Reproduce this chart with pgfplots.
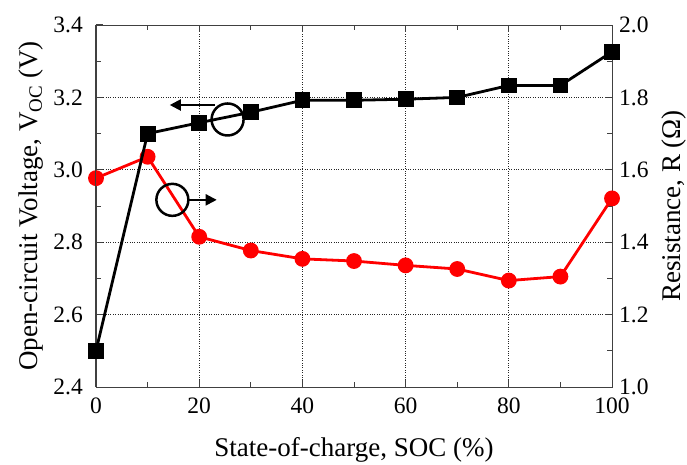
\documentclass[border=0pt]{standalone}
\usepackage{pgfplots}
\pgfplotsset{compat=1.18}
\usepackage{fontspec}
\setmainfont{Liberation Serif}
\usetikzlibrary{arrows.meta}
\begin{document}
\begin{tikzpicture}
% Right axis: resistance (drawn first, with the grid)
\begin{axis}[
  name=ax,
  font=\fontsize{23.5pt}{28pt}\selectfont,
  scale only axis, width=516pt, height=362pt,
  xmin=0, xmax=100,
  /pgf/number format/assume math mode=true,
  axis line style={black!75, line width=1pt},
  tick style={black!75, line width=1pt},
  major tick length=7pt, minor tick length=5pt,
  yticklabel style={inner sep=0pt, xshift=7pt, /pgf/number format/fixed, /pgf/number format/fixed zerofill, /pgf/number format/precision=1},
  xticklabel style={inner sep=0pt, yshift=-11pt},
  ymin=1.0, ymax=2.0,
  ytick={1.0,1.2,1.4,1.6,1.8,2.0},
  minor ytick={1.1,1.3,1.5,1.7,1.9},
  xtick={0,20,40,60,80,100},
  minor xtick={10,30,50,70,90},
  xtick pos=both,
  ytick pos=right, yticklabel pos=right,
  ylabel={Resistance, R (Ω)},
  ylabel style={font=\fontsize{27pt}{32pt}\selectfont, at={([xshift=68pt]axis description cs:1,0.5)}, anchor=base, rotate=0},
  xlabel={State-of-charge, SOC (\%)},
  xlabel style={font=\fontsize{27pt}{32pt}\selectfont, at={([yshift=-69pt]axis description cs:0.5,0)}, anchor=base},
  grid=major,
  major grid style={dotted, black!85, line width=0.9pt},
]
\addplot[red, line width=2.8pt, mark=*, mark size=6.5pt, mark options={solid, fill=red, draw=red}] coordinates {
  (0,1.577) (10,1.636) (20,1.415) (30,1.377) (40,1.354) (50,1.348)
  (60,1.336) (70,1.326) (80,1.294) (90,1.305) (100,1.521)
};
\end{axis}
% Left axis: open-circuit voltage
\begin{axis}[
  font=\fontsize{23.5pt}{28pt}\selectfont,
  scale only axis, width=516pt, height=362pt,
  xmin=0, xmax=100,
  /pgf/number format/assume math mode=true,
  axis line style={black!75, line width=1pt},
  tick style={black!75, line width=1pt},
  major tick length=7pt, minor tick length=5pt,
  yticklabel style={inner sep=0pt, xshift=-13pt, /pgf/number format/fixed, /pgf/number format/fixed zerofill, /pgf/number format/precision=1},
  ymin=2.4, ymax=3.4,
  ytick={2.4,2.6,2.8,3.0,3.2,3.4},
  minor ytick={2.5,2.7,2.9,3.1,3.3},
  axis x line=none,
  axis y line*=left,
  ytick pos=left,
  ylabel={Open-circuit Voltage, V\textsubscript{OC} (V)},
  ylabel style={font=\fontsize{27pt}{32pt}\selectfont, at={([xshift=-58pt]axis description cs:0,0.5)}, anchor=base},
  clip=false,
]
\addplot[black, line width=2.8pt, mark=square*, mark size=6.5pt, mark options={solid, fill=black}] coordinates {
  (0,2.500) (10,3.100) (20,3.130) (30,3.159) (40,3.192) (50,3.192)
  (60,3.195) (70,3.200) (80,3.233) (90,3.233) (100,3.326)
};
\draw[black, line width=2.5pt] (axis cs:25.5,3.139) circle[radius=16pt];
\draw[black, line width=2pt, -{Triangle[length=11pt, width=11pt]}] (axis cs:23.1,3.179) -- (axis cs:14.3,3.179);
\draw[black, line width=2.5pt] (axis cs:14.8,2.917) circle[radius=16pt];
\draw[black, line width=2pt, -{Triangle[length=11pt, width=11pt]}] (axis cs:18.0,2.917) -- (axis cs:23.4,2.917);
\end{axis}
\pgfresetboundingbox
\path ([shift={(-96pt,-77pt)}]ax.south west) rectangle ([shift={(75pt,25pt)}]ax.north east);
\end{tikzpicture}
\end{document}
